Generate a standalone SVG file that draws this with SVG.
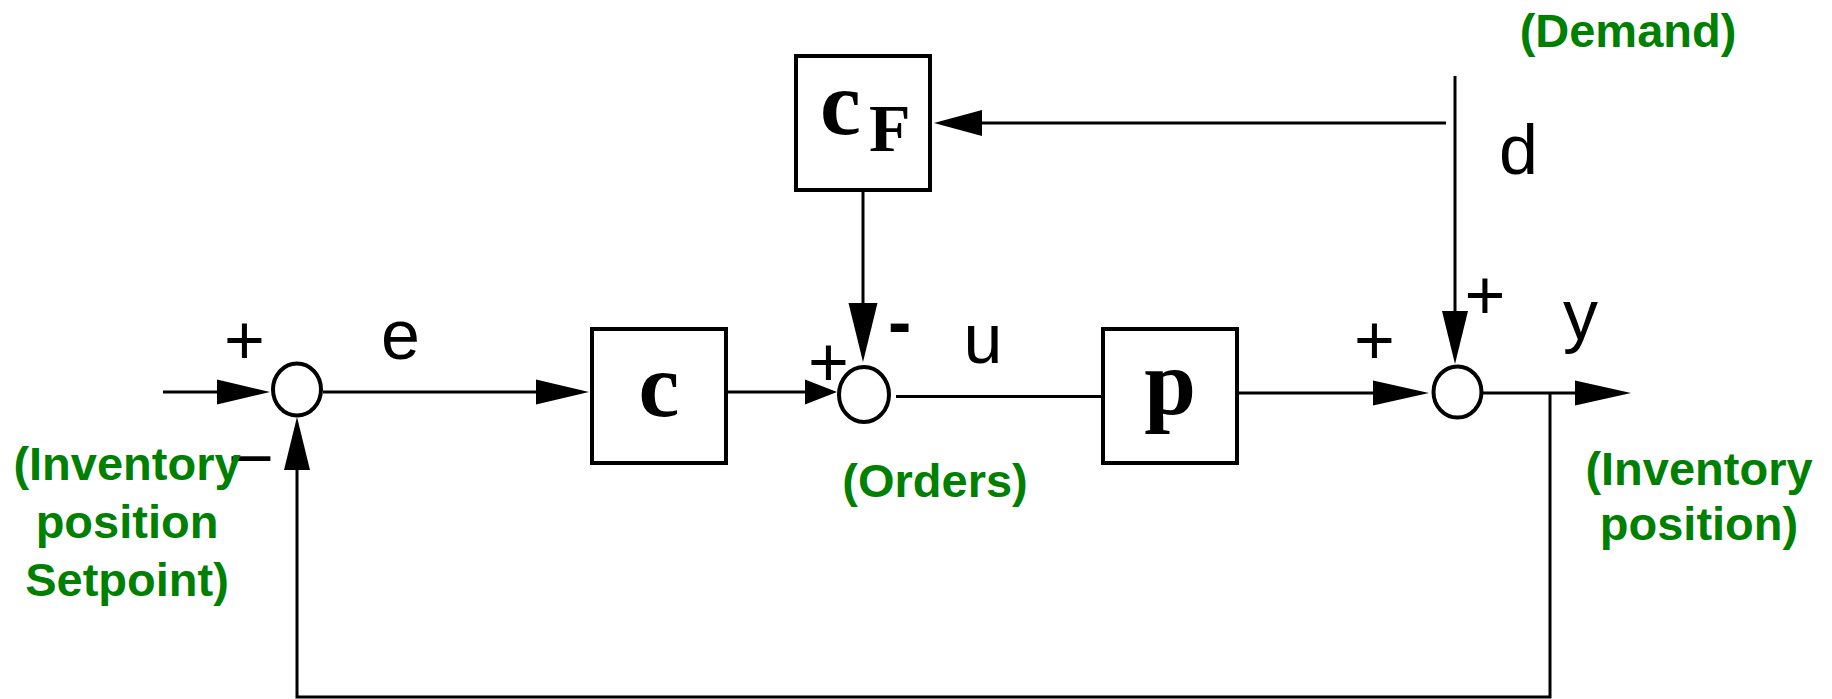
<svg xmlns="http://www.w3.org/2000/svg" width="1832" height="699" viewBox="0 0 1832 699">
<style>
.box{fill:#fff;stroke:#000;stroke-width:4}
.sum{fill:#fff;stroke:#000;stroke-width:4}
.ln{fill:none;stroke:#000;stroke-width:3}
.ah{fill:#000;stroke:none}
.lbl{font-family:"Liberation Sans",Arial,Helvetica,sans-serif;font-size:70px;fill:#000}
.blk{font-family:"Liberation Serif","Times New Roman",serif;font-weight:bold;fill:#000}
.grn{font-family:"Liberation Sans",Arial,Helvetica,sans-serif;font-weight:bold;font-size:47px;fill:#008000;text-anchor:middle}
</style>
<rect width="1832" height="699" fill="#fff"/>
<g id="connectors">
  <path class="ln" d="M163 392 H220"/>
  <polygon class="ah" points="217,379.5 270,392 217,404.5"/>
  <path class="ln" d="M323 392 H540"/>
  <polygon class="ah" points="536,379.5 589,392 536,404.5"/>
  <path class="ln" d="M728 392 H808"/>
  <polygon class="ah" points="805,379.5 837,392 805,404.5"/>
  <path class="ln" d="M896 396.5 H1101"/>
  <path class="ln" d="M1239 393 H1376"/>
  <polygon class="ah" points="1373,380.5 1429,393 1373,405.5"/>
  <path class="ln" d="M1482 393 H1578"/>
  <polygon class="ah" points="1575,380.5 1631,393 1575,405.5"/>
  <path class="ln" d="M1550 393 V697 H297 V467"/>
  <polygon class="ah" points="284,470 297,417 310,470"/>
  <path class="ln" d="M863 192 V306"/>
  <polygon class="ah" points="848.5,303 863,362 877.5,303"/>
  <path class="ln" d="M1455 76 V314"/>
  <polygon class="ah" points="1442,311 1455,364 1468,311"/>
  <path class="ln" d="M1446 123 H979"/>
  <polygon class="ah" points="982,110 934,123 982,136"/>
</g>
<g id="node-sum1"><ellipse class="sum" cx="297" cy="389.5" rx="24" ry="26"/></g>
<g id="node-sum2"><ellipse class="sum" cx="864" cy="394.5" rx="25" ry="27.5"/></g>
<g id="node-sum3"><ellipse class="sum" cx="1457.5" cy="392" rx="24" ry="25.5"/></g>
<g id="node-C">
  <rect class="box" x="592" y="329" width="134" height="134"/>
  <text class="blk" x="659" y="416" font-size="92" text-anchor="middle">c</text>
</g>
<g id="node-CF">
  <rect class="box" x="796" y="56" width="134" height="134"/>
  <text class="blk" x="820" y="134" font-size="92">c</text>
  <text class="blk" x="869" y="151" font-size="68">F</text>
</g>
<g id="node-P">
  <rect class="box" x="1103" y="329" width="134" height="134"/>
  <text class="blk" x="1170" y="414" font-size="93" text-anchor="middle">p</text>
</g>
<g id="labels">
  <text class="lbl" x="244.5" y="364" text-anchor="middle">+</text>
  <text class="lbl" x="400.5" y="359" text-anchor="middle">e</text>
  <text class="lbl" x="251" y="477" font-size="54" text-anchor="middle">–</text>
  <text class="lbl" x="828.5" y="386" text-anchor="middle">+</text>
  <text class="lbl" x="888" y="346" font-weight="bold">-</text>
  <text class="lbl" x="983" y="363" text-anchor="middle">u</text>
  <text class="lbl" x="1374.5" y="364" text-anchor="middle">+</text>
  <text class="lbl" x="1485" y="319" text-anchor="middle">+</text>
  <text class="lbl" x="1518.5" y="174" text-anchor="middle">d</text>
  <text class="lbl" x="1580.5" y="339" text-anchor="middle">y</text>
</g>
<g id="annotations">
  <text class="grn" x="127" y="480">(Inventory</text>
  <text class="grn" x="127" y="538">position</text>
  <text class="grn" x="127" y="596">Setpoint)</text>
  <text class="grn" x="935" y="497">(Orders)</text>
  <text class="grn" x="1628" y="47">(Demand)</text>
  <text class="grn" x="1699" y="485">(Inventory</text>
  <text class="grn" x="1699" y="540">position)</text>
</g>
</svg>
